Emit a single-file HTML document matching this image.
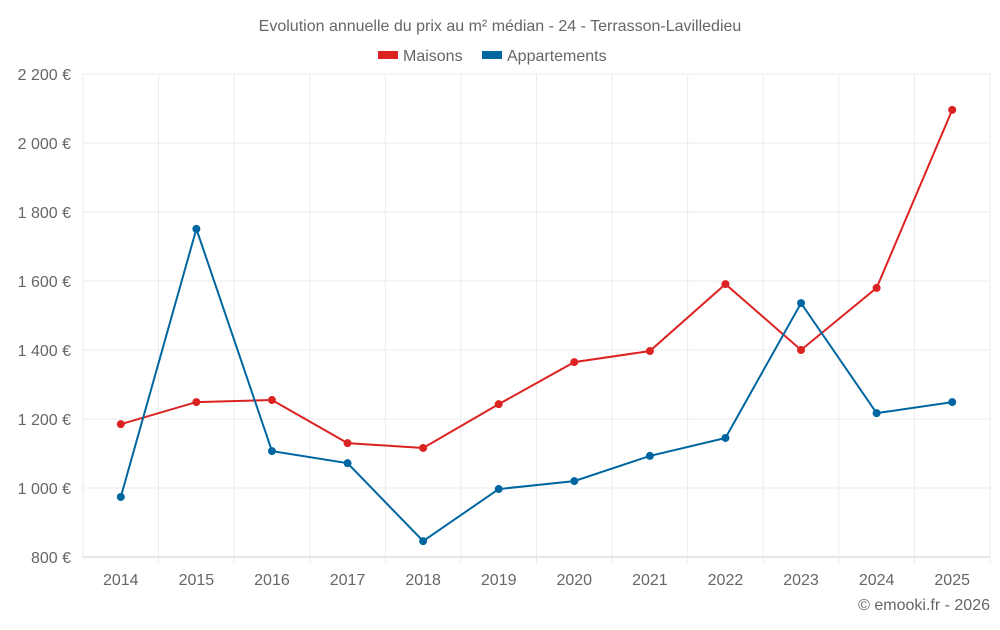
<!DOCTYPE html>
<html><head><meta charset="utf-8"><style>
body{margin:0;background:#fff;font-family:"Liberation Sans",sans-serif;}
svg text{font-family:"Liberation Sans",sans-serif;fill:#666;}
</style></head><body>
<svg id="chart" width="1000" height="625">
<text x="500" y="31" text-anchor="middle" font-size="16">Evolution annuelle du prix au m² médian - 24 - Terrasson-Lavilledieu</text>
<g>
<rect x="378" y="51" width="20" height="8" fill="#dd2222"/>
<text x="403" y="61" font-size="16">Maisons</text>
<rect x="482" y="51" width="20" height="8" fill="#0066a0"/>
<text x="507" y="61" font-size="16">Appartements</text>
</g>
<g id="grid"></g><g id="axes"></g><g id="series"></g>
<text x="990" y="610" text-anchor="end" font-size="16">© emooki.fr - 2026</text>
</svg>
<script>
const years=[2014,2015,2016,2017,2018,2019,2020,2021,2022,2023,2024,2025];
const maisons=[1185,1249,1255,1130,1116,1243,1365,1397,1591,1400,1580,2096];
const appartements=[974,1751,1107,1072,846,997,1020,1093,1145,1536,1217,1249];
const yTicks=[800,1000,1200,1400,1600,1800,2000,2200];
const yTickLabels=["800 €","1 000 €","1 200 €","1 400 €","1 600 €","1 800 €","2 000 €","2 200 €"];
const NS="http://www.w3.org/2000/svg";
const L=83,R=990,T=74,B=557;
const step=(R-L)/years.length;
const x=i=>L+step*(i+0.5);
const y=v=>B-(v-800)/(2200-800)*(B-T);
function mk(tag,attrs,parent){const e=document.createElementNS(NS,tag);for(const k in attrs)e.setAttribute(k,attrs[k]);parent.appendChild(e);return e;}
const grid=document.getElementById('grid'),axes=document.getElementById('axes'),ser=document.getElementById('series');
yTicks.forEach((v,i)=>{
 const g=mk('line',{x1:L,x2:R,y1:y(v),y2:y(v),stroke:i==0?'#ccc':'#ebebeb'},grid);
 
 
 const t=mk('text',{x:71,y:y(v)+6,'text-anchor':'end','font-size':16},axes);
 t.textContent=yTickLabels[i];
 
 
});
for(let i=0;i<=years.length;i++){
 const gl=mk('line',{x1:L+step*i,x2:L+step*i,y1:T,y2:B+(i==0?0:6),stroke:'#ebebeb'},grid);
 
 
}
years.forEach((yr,i)=>{
 const t=mk('text',{x:x(i),y:585,'text-anchor':'middle','font-size':16},axes);
 t.textContent=yr;
 
 
});
function draw(data,color,name){
 const p=mk('polyline',{points:data.map((v,i)=>x(i)+','+y(v)).join(' '),fill:'none',stroke:color,'stroke-width':2},ser);
 
 
 data.forEach((v,i)=>{
  const c=mk('circle',{cx:x(i),cy:y(v),r:4,fill:color},ser);
  
  
 });
}
draw(maisons,'#dd2222','maisons');
draw(appartements,'#0066a0','appartements');
</script>
</body></html>
